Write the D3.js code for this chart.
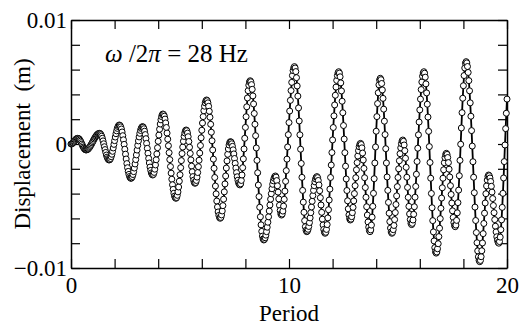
<!DOCTYPE html>
<html>
<head>
<meta charset="utf-8">
<script src="https://cdn.jsdelivr.net/npm/d3@7"></script>
<style>
  body { margin: 0; background: #fff; }
  text { font-family: "Liberation Serif", "Times New Roman", serif; }
</style>
</head>
<body>
<div id="chart"></div>
<script>
// response sampled 32 times per forcing period
const samplesPerPeriod = 32;

// displacement in mm (1e-3 m), one row per stretch of the trace
const displacementMM = [
  0, 0.01, 0.04, 0.09, 0.16, 0.23, 0.30, 0.37, 0.42, 0.45, 0.46,
  0.44, 0.40, 0.32, 0.23, 0.11, -0.01, -0.13, -0.25, -0.34, -0.42, -0.46, -0.48,
  -0.47, -0.45, -0.41, -0.35, -0.28, -0.20, -0.11, -0.02, 0.09, 0.19, 0.29, 0.40, 0.49, 0.58, 0.66, 0.73, 0.79, 0.83, 0.85, 0.86,
  0.83, 0.75, 0.63, 0.46, 0.25, 0.02, -0.22, -0.45, -0.68, -0.89, -1.06, -1.18, -1.26, -1.29,
  -1.26, -1.17, -1.02, -0.83, -0.59, -0.32, -0.03, 0.27, 0.56, 0.83, 1.06, 1.26, 1.41, 1.50, 1.53,
  1.49, 1.38, 1.21, 0.97, 0.67, 0.34, -0.03, -0.42, -0.82, -1.21, -1.58, -1.91, -2.21, -2.45, -2.62, -2.73, -2.77,
  -2.73, -2.63, -2.46, -2.23, -1.94, -1.61, -1.26, -0.88, -0.49, -0.11, 0.25, 0.57, 0.86, 1.09, 1.26, 1.36, 1.40,
  1.36, 1.23, 1.03, 0.76, 0.43, 0.05, -0.35, -0.75, -1.16, -1.53, -1.86, -2.13, -2.33, -2.46, -2.50,
  -2.45, -2.29, -2.03, -1.69, -1.27, -0.80, -0.30, 0.22, 0.72, 1.19, 1.61, 1.95, 2.21, 2.37, 2.42,
  2.37, 2.24, 2.01, 1.70, 1.33, 0.88, 0.39, -0.14, -0.70, -1.26, -1.82, -2.35, -2.84, -3.29, -3.66, -3.97, -4.20, -4.33, -4.38,
  -4.32, -4.14, -3.86, -3.47, -3.00, -2.48, -1.91, -1.34, -0.77, -0.25, 0.22, 0.61, 0.89, 1.07, 1.13,
  1.07, 0.88, 0.59, 0.20, -0.26, -0.76, -1.28, -1.78, -2.24, -2.63, -2.92, -3.11, -3.17,
  -3.11, -2.94, -2.67, -2.30, -1.83, -1.31, -0.73, -0.12, 0.50, 1.11, 1.69, 2.21, 2.68, 3.05, 3.32, 3.49, 3.55,
  3.49, 3.32, 3.04, 2.64, 2.16, 1.59, 0.95, 0.26, -0.48, -1.22, -1.96, -2.70, -3.39, -4.02, -4.60, -5.08, -5.48, -5.76, -5.93, -5.99,
  -5.92, -5.72, -5.40, -4.97, -4.45, -3.86, -3.22, -2.58, -1.94, -1.36, -0.83, -0.40, -0.08, 0.12, 0.19,
  0.15, 0.02, -0.19, -0.47, -0.80, -1.17, -1.56, -1.94, -2.31, -2.64, -2.92, -3.13, -3.25, -3.30,
  -3.21, -2.94, -2.50, -1.91, -1.20, -0.40, 0.46, 1.34, 2.20, 3.00, 3.71, 4.30, 4.74, 5.01, 5.10,
  5.02, 4.79, 4.41, 3.88, 3.23, 2.46, 1.59, 0.67, -0.32, -1.32, -2.32, -3.31, -4.24, -5.10, -5.87, -6.52, -7.05, -7.43, -7.66, -7.74,
  -7.69, -7.56, -7.35, -7.07, -6.71, -6.31, -5.87, -5.40, -4.92, -4.45, -4.01, -3.61, -3.25, -2.97, -2.76, -2.63, -2.58,
  -2.67, -2.95, -3.37, -3.88, -4.43, -4.94, -5.36, -5.64, -5.73,
  -5.65, -5.41, -5.01, -4.46, -3.80, -3.01, -2.15, -1.22, -0.24, 0.75, 1.73, 2.66, 3.52, 4.31, 4.97, 5.52, 5.92, 6.16, 6.24,
  6.13, 5.84, 5.35, 4.68, 3.86, 2.91, 1.86, 0.74, -0.42, -1.57, -2.69, -3.74, -4.69, -5.51, -6.18, -6.67, -6.96, -7.07,
  -7.02, -6.88, -6.65, -6.34, -5.96, -5.54, -5.08, -4.62, -4.16, -3.74, -3.36, -3.05, -2.82, -2.68, -2.63,
  -2.71, -2.94, -3.30, -3.77, -4.33, -4.92, -5.51, -6.06, -6.53, -6.89, -7.12, -7.20,
  -7.12, -6.89, -6.50, -5.96, -5.30, -4.52, -3.64, -2.70, -1.70, -0.69, 0.33, 1.33, 2.27, 3.15, 3.93, 4.59, 5.13, 5.52, 5.75, 5.83,
  5.72, 5.42, 4.93, 4.28, 3.45, 2.52, 1.49, 0.40, -0.70, -1.79, -2.82, -3.75, -4.58, -5.23, -5.72, -6.02, -6.13,
  -6.06, -5.86, -5.54, -5.11, -4.59, -4.00, -3.36, -2.72, -2.08, -1.50, -0.97, -0.54, -0.22, -0.02, 0.05,
  -0.04, -0.31, -0.73, -1.29, -1.97, -2.72, -3.51, -4.30, -5.06, -5.73, -6.29, -6.71, -6.98, -7.07,
  -6.93, -6.54, -5.90, -5.03, -3.98, -2.80, -1.53, -0.24, 1.03, 2.21, 3.26, 4.13, 4.77, 5.16, 5.30,
  5.19, 4.88, 4.36, 3.68, 2.81, 1.84, 0.76, -0.38, -1.53, -2.66, -3.74, -4.71, -5.58, -6.26, -6.78, -7.09, -7.20,
  -7.13, -6.91, -6.57, -6.10, -5.53, -4.88, -4.18, -3.44, -2.70, -2.00, -1.35, -0.78, -0.31, 0.03, 0.25, 0.32,
  0.22, -0.08, -0.54, -1.15, -1.88, -2.68, -3.50, -4.30, -5.03, -5.64, -6.10, -6.40, -6.50,
  -6.40, -6.13, -5.67, -5.06, -4.29, -3.42, -2.44, -1.41, -0.34, 0.74, 1.77, 2.75, 3.62, 4.39, 5.00, 5.46, 5.73, 5.83,
  5.71, 5.39, 4.85, 4.12, 3.21, 2.17, 1.02, -0.21, -1.49, -2.76, -3.99, -5.14, -6.18, -7.09, -7.82, -8.36, -8.68, -8.80,
  -8.71, -8.45, -8.04, -7.47, -6.79, -6.02, -5.19, -4.36, -3.53, -2.76, -2.08, -1.51, -1.10, -0.84, -0.75,
  -0.84, -1.09, -1.50, -2.03, -2.66, -3.36, -4.07, -4.76, -5.39, -5.92, -6.33, -6.58, -6.67,
  -6.54, -6.16, -5.55, -4.73, -3.72, -2.56, -1.32, -0.02, 1.29, 2.53, 3.69, 4.70, 5.52, 6.13, 6.51, 6.64,
  6.54, 6.25, 5.77, 5.11, 4.29, 3.32, 2.24, 1.08, -0.17, -1.43, -2.68, -3.93, -5.09, -6.17, -7.14, -7.96, -8.62, -9.10, -9.39, -9.49,
  -9.39, -9.09, -8.61, -7.98, -7.23, -6.41, -5.58, -4.76, -4.01, -3.38, -2.91, -2.61, -2.50,
  -2.56, -2.74, -3.02, -3.41, -3.88, -4.40, -4.96, -5.54, -6.10, -6.63, -7.09, -7.48, -7.76, -7.94, -8.00,
  -7.87, -7.51, -6.91, -6.12, -5.11, -3.98, -2.74, -1.42, -0.08, 1.24, 2.48, 3.62
];

const xTicks = [0, 2, 4, 6, 8, 10, 12, 14, 16, 18, 20];
const xLabels = [0, 10, 20];
const yTicks = [-0.01, -0.008, -0.006, -0.004, -0.002, 0, 0.002, 0.004, 0.006, 0.008, 0.01];
const yLabels = [-0.01, 0, 0.01];

const width = 522, height = 324;
const margin = { top: 20, right: 15, bottom: 56, left: 71 };
const w = width - margin.left - margin.right;
const h = height - margin.top - margin.bottom;
const fontSize = 23;

const svg = d3.select('#chart').append('svg')
  .attr('width', width)
  .attr('height', height);

const g = svg.append('g')
  .attr('transform', `translate(${margin.left},${margin.top})`);

const x = d3.scaleLinear().domain([0, 20]).range([0, w]);
const y = d3.scaleLinear().domain([-0.01, 0.01]).range([h, 0]);

const fmtX = d => xLabels.includes(d) ? String(d) : '';
const fmtY = d => yLabels.some(v => Math.abs(v - d) < 1e-9) ? (Math.abs(d) < 1e-9 ? '0' : d3.format('.2f')(d)) : '';

// axes, ticks pointing inward on all four sides
function styleAxis(sel) {
  sel.attr('font-family', '"Liberation Serif", "Times New Roman", serif')
    .attr('font-size', fontSize);
  sel.select('.domain').attr('stroke-width', 1.5);
  sel.selectAll('.tick line').attr('stroke-width', 1.2);
  sel.selectAll('.tick text').attr('fill', '#000');
}

g.append('g')
  .attr('transform', `translate(0,${h})`)
  .call(d3.axisBottom(x).tickValues(xTicks).tickSize(-9).tickSizeOuter(0).tickPadding(9).tickFormat(fmtX))
  .call(styleAxis);

g.append('g')
  .call(d3.axisTop(x).tickValues(xTicks).tickSize(-9).tickSizeOuter(0).tickFormat(''))
  .call(styleAxis);

g.append('g')
  .call(d3.axisLeft(y).tickValues(yTicks).tickSize(-9).tickSizeOuter(0).tickPadding(4).tickFormat(fmtY))
  .call(styleAxis);

g.append('g')
  .attr('transform', `translate(${w},0)`)
  .call(d3.axisRight(y).tickValues(yTicks).tickSize(-9).tickSizeOuter(0).tickFormat(''))
  .call(styleAxis);

// trace
const line = d3.line()
  .x((d, i) => x(i / samplesPerPeriod))
  .y(d => y(d / 1000));

g.append('path')
  .datum(displacementMM)
  .attr('fill', 'none')
  .attr('stroke', '#000')
  .attr('stroke-width', 1.8)
  .attr('d', line);

g.append('g')
  .selectAll('circle')
  .data(displacementMM)
  .join('circle')
  .attr('cx', (d, i) => x(i / samplesPerPeriod))
  .attr('cy', d => y(d / 1000))
  .attr('r', 3)
  .attr('fill', '#fff')
  .attr('stroke', '#000')
  .attr('stroke-width', 1);

// labels
g.append('text')
  .attr('x', w / 2)
  .attr('y', h + 52.5)
  .attr('text-anchor', 'middle')
  .attr('font-size', fontSize)
  .text('Period');

g.append('text')
  .attr('transform', `translate(${30 - margin.left},${h / 2}) rotate(-90)`)
  .attr('text-anchor', 'middle')
  .attr('font-size', fontSize)
  .style('white-space', 'pre')
  .text('Displacement  (m)');

const note = g.append('text')
  .attr('x', 34)
  .attr('y', 42)
  .attr('font-size', 25)
  .style('white-space', 'pre');
note.append('tspan').attr('font-style', 'italic').text('ω');
note.append('tspan').text(' /2');
note.append('tspan').attr('font-style', 'italic').text('π');
note.append('tspan').text(' = 28 Hz');
</script>
</body>
</html>
